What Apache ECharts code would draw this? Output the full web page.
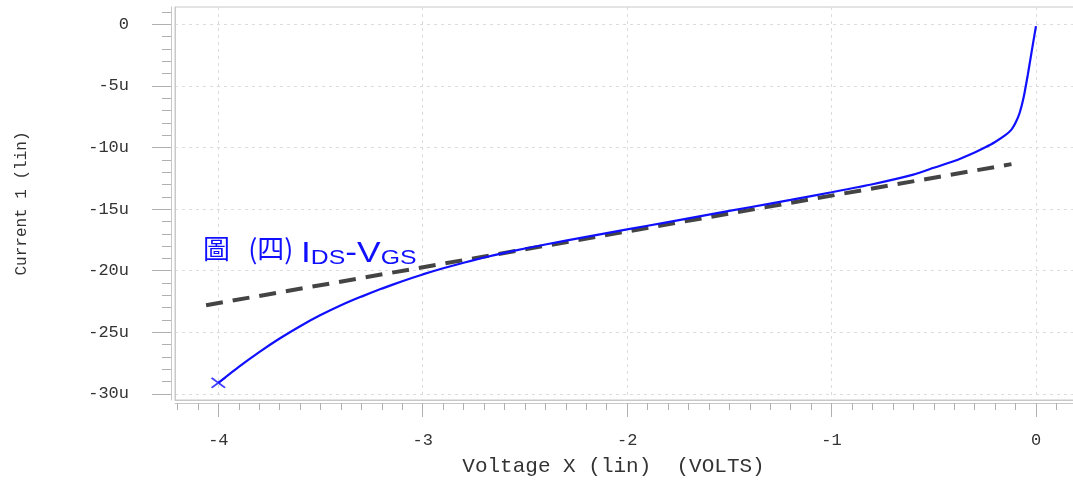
<!DOCTYPE html>
<html>
<head>
<meta charset="utf-8">
<script src="https://cdn.jsdelivr.net/npm/echarts@6/dist/echarts.min.js"></script>
<style>html,body{margin:0;padding:0;background:#fff}#c{width:1073px;height:481px}</style>
</head>
<body>
<div id="c"></div>
<script>
// ---- data (VGS in volts, IDS in microamps) ----
const vgs = [-4.0, -3.9, -3.8, -3.7, -3.6, -3.5, -3.4, -3.3, -3.2, -3.1, -3.0, -2.9, -2.8, -2.7, -2.6, -2.5, -2.4, -2.2, -2.0, -1.8, -1.6, -1.4, -1.2, -1.0, -0.8, -0.6, -0.5, -0.4, -0.3, -0.25, -0.2, -0.15, -0.12, -0.1, -0.08, -0.06, -0.04, -0.02, 0.0];
const ids = [-29.1, -27.8, -26.6, -25.5, -24.5, -23.6, -22.8, -22.1, -21.45, -20.85, -20.3, -19.8, -19.35, -18.93, -18.55, -18.2, -17.87, -17.25, -16.65, -16.05, -15.45, -14.85, -14.25, -13.63, -12.98, -12.2, -11.65, -11.1, -10.4, -10.0, -9.55, -9.0, -8.55, -8.0, -7.2, -5.9, -4.1, -2.1, -0.15];
const fitV = [-4.06, -0.12];
const fitI = [-22.8, -11.35];
const xTicks = [-4, -3, -2, -1, 0];
const xTickLabels = ['-4', '-3', '-2', '-1', '0'];
const yTicks = [0, -5, -10, -15, -20, -25, -30];
const yTickLabels = ['0', '-5u', '-10u', '-15u', '-20u', '-25u', '-30u'];
const xName = 'Voltage X (lin)  (VOLTS)';
const yName = 'Current 1 (lin)';
const noteCJK = '圖   (四)';
const noteLatin = 'I{s|DS}-V{s|GS}';

// minor tick positions
const xMinor = [];
for (let i = -42; i <= 1; i++) xMinor.push(i / 10);
const yMinor = [];
for (let i = -30; i <= 1; i++) yMinor.push(i);

const X_MIN = -4.212, X_MAX = 0.186, Y_MIN = -30.49, Y_MAX = 1.40;
const mono = 'Liberation Mono';
const lineCol = '#c8c8c8';
const tickCol = '#b0b0b0';
const blue = '#1010ff';
const gridRect = { left: 175, right: -1, top: 7, bottom: 81, outerBoundsMode: 'none', containLabel: false };

function lab(ticks, labels) {
  return v => { const i = ticks.findIndex(t => Math.abs(t - v) < 1e-6); return i >= 0 ? labels[i] : ''; };
}
const hidden = { show: false };
const lineOn = { show: true, onZero: false, lineStyle: { color: lineCol } };
const lineOff = { show: false, onZero: false };

const chart = echarts.init(document.getElementById('c'), null, {renderer: 'canvas'});
chart.setOption({
  backgroundColor: '#fff',
  animation: false,
  title: {
    left: 203, top: 235, padding: 0,
    text: noteCJK,
    textStyle: { color: blue, fontSize: 27, fontWeight: 'normal', fontFamily: 'Noto Sans CJK TC' }
  },
  graphic: [{
    type: 'text', x: 301, y: 238, scaleX: 1.18, z: 100,
    style: {
      text: noteLatin, fill: blue, fontSize: 30, fontFamily: 'Liberation Sans',
      rich: { s: { fontSize: 21, fill: blue, fontFamily: 'Liberation Sans', verticalAlign: 'bottom', padding: [10, 0, 0, 0] } }
    }
  }],
  grid: [
    Object.assign({ show: true, borderColor: lineCol, borderWidth: 1, backgroundColor: '#fff' }, gridRect),
    Object.assign({ show: false }, gridRect),
    Object.assign({ show: false }, gridRect)
  ],
  xAxis: [
    { gridIndex: 0, type: 'value', min: X_MIN, max: X_MAX, position: 'bottom',
      axisLine: lineOn,
      axisTick: { show: false, customValues: xTicks },
      axisLabel: { show: false, customValues: xTicks },
      splitLine: { show: true, lineStyle: { color: '#dcdcdc', type: [3, 4], width: 1 } } },
    { gridIndex: 1, type: 'value', min: X_MIN, max: X_MAX, position: 'bottom', offset: 3,
      axisLine: lineOn,
      axisTick: { show: true, length: 14, customValues: xTicks, lineStyle: { color: tickCol } },
      axisLabel: { show: true, customValues: xTicks, formatter: lab(xTicks, xTickLabels), margin: 29, color: '#333', fontFamily: mono, fontSize: 17 },
      splitLine: hidden,
      name: xName, nameLocation: 'middle', nameGap: 53,
      nameTextStyle: { color: '#333', fontFamily: mono, fontSize: 21, padding: [0, 22, 0, 0] } },
    { gridIndex: 2, type: 'value', min: X_MIN, max: X_MAX, position: 'bottom', offset: 3,
      axisLine: lineOff,
      axisTick: { show: true, length: 7, customValues: xMinor, lineStyle: { color: tickCol } },
      axisLabel: hidden, splitLine: hidden }
  ],
  yAxis: [
    { gridIndex: 0, type: 'value', min: Y_MIN, max: Y_MAX, position: 'left',
      axisLine: lineOn,
      axisTick: { show: false, customValues: yTicks },
      axisLabel: { show: false, customValues: yTicks },
      splitLine: { show: true, lineStyle: { color: '#dcdcdc', type: [3, 4], width: 1 } } },
    { gridIndex: 1, type: 'value', min: Y_MIN, max: Y_MAX, position: 'left', offset: 4,
      axisLine: lineOn,
      axisTick: { show: true, length: 19, customValues: yTicks, lineStyle: { color: tickCol } },
      axisLabel: { show: true, customValues: yTicks, formatter: lab(yTicks, yTickLabels), margin: 42, color: '#333', fontFamily: mono, fontSize: 17 },
      splitLine: hidden,
      name: yName, nameLocation: 'middle', nameGap: 141, nameRotate: 90,
      nameTextStyle: { color: '#333', fontFamily: mono, fontSize: 16 } },
    { gridIndex: 2, type: 'value', min: Y_MIN, max: Y_MAX, position: 'left', offset: 4,
      axisLine: lineOff,
      axisTick: { show: true, length: 9, customValues: yMinor, lineStyle: { color: tickCol } },
      axisLabel: hidden, splitLine: hidden }
  ],
  series: [
    { type: 'line', name: 'fit', xAxisIndex: 0, yAxisIndex: 0, data: fitV.map((v, i) => [v, fitI[i]]),
      symbol: 'none', lineStyle: { color: '#444', width: 4, type: [17, 10] } },
    { type: 'line', name: 'IDS', xAxisIndex: 0, yAxisIndex: 0, data: vgs.map((v, i) => [v, ids[i]]),
      symbol: 'none', smooth: 0.2,
      lineStyle: { color: blue, width: 2.2 } },
    { type: 'scatter', name: 'start', xAxisIndex: 0, yAxisIndex: 0, data: [[vgs[0], ids[0]]],
      symbol: 'path://M0,1L1,0L5,4L9,0L10,1L6,5L10,9L9,10L5,6L1,10L0,9L4,5Z',
      symbolSize: [15, 11], itemStyle: { color: blue } }
  ]
});
</script>
</body>
</html>
